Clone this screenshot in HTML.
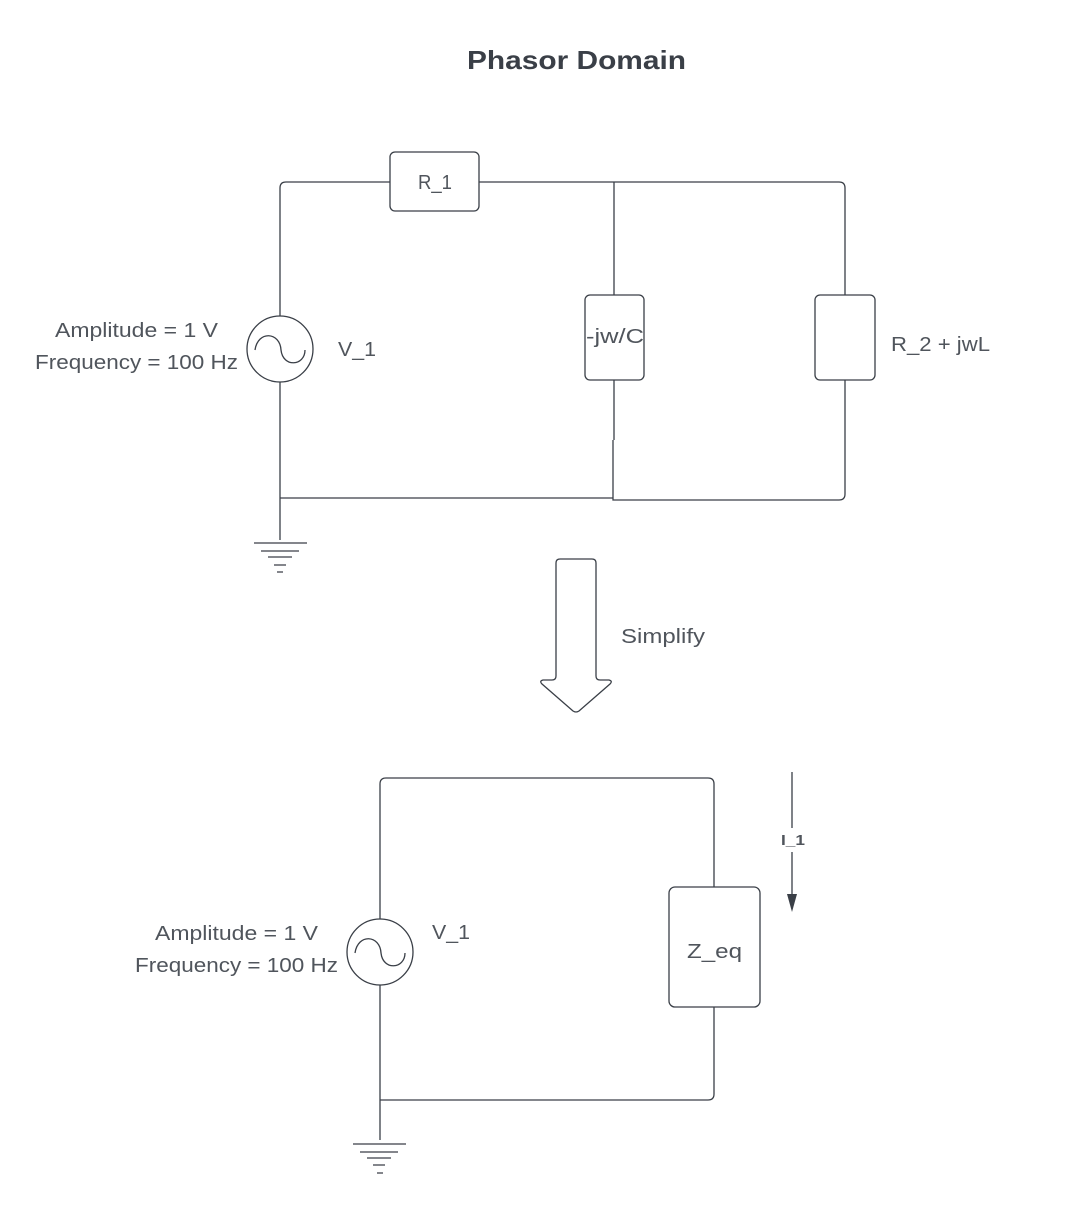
<!DOCTYPE html>
<html><head><meta charset="utf-8"><style>
body{margin:0;background:#fff;}
svg text{font-family:"Liberation Sans",sans-serif;fill:#50555c;}
</style></head><body>
<svg width="1088" height="1214" viewBox="0 0 1088 1214" xmlns="http://www.w3.org/2000/svg">
<text x="467" y="69" font-size="26" font-weight="bold" textLength="219" lengthAdjust="spacingAndGlyphs" style="fill:#3a3f47">Phasor Domain</text>
<g fill="none" stroke="#3a3f47" stroke-width="1.3">
<path d="M280,316 V188 Q280,182 286,182 H390"/>
<path d="M479,182 H839 Q845,182 845,188 V295"/>
<path d="M614,182 V295"/>
<path d="M614,380 V440 M613,440 V500 H839 Q845,500 845,494 V380"/>
<path d="M280,382 V540 M280,498 H613"/>
<rect x="390" y="152" width="89" height="59" rx="5"/>
<rect x="585" y="295" width="59" height="85" rx="5"/>
<rect x="815" y="295" width="60" height="85" rx="5"/>
<circle cx="280" cy="349" r="33"/>
<path d="M255,350 C258,330 280,332 281,350 C283,368 305,366 305,350"/>
<path d="M254,543 H307 M261,551 H299 M268,557 H292 M274,565 H286 M277,572 H283"/>
<path d="M560,559 H592 Q596,559 596,563 V676 Q596,680 600,680 H609 Q613,681 610,684 L579,711 Q576,713 573,711 L542,684 Q539,681 543,680 H552 Q556,680 556,676 V563 Q556,559 560,559 Z"/>
<path d="M380,919 V784 Q380,778 386,778 H708 Q714,778 714,784 V887"/>
<path d="M714,1007 V1094 Q714,1100 708,1100 H380"/>
<path d="M380,985 V1140"/>
<rect x="669" y="887" width="91" height="120" rx="6"/>
<circle cx="380" cy="952" r="33"/>
<path d="M355,953 C358,933 380,935 381,953 C383,971 405,969 405,953"/>
<path d="M353,1144 H406 M360,1152 H398 M367,1158 H391 M373,1165 H385 M377,1173 H383"/>
<path d="M792,772 V828 M792,852 V896"/>
</g>
<polygon points="787,894 797,894 792,912" fill="#3a3f47"/>
<text x="418" y="189" font-size="20" textLength="34" lengthAdjust="spacingAndGlyphs">R_1</text>
<text x="586" y="343" font-size="20" textLength="58" lengthAdjust="spacingAndGlyphs">-jw/C</text>
<text x="891" y="351" font-size="20" textLength="99" lengthAdjust="spacingAndGlyphs">R_2 + jwL</text>
<text x="338" y="356" font-size="20" textLength="38" lengthAdjust="spacingAndGlyphs">V_1</text>
<text x="55" y="337" font-size="20" textLength="163" lengthAdjust="spacingAndGlyphs">Amplitude = 1 V</text>
<text x="35" y="369" font-size="20" textLength="203" lengthAdjust="spacingAndGlyphs">Frequency = 100 Hz</text>
<text x="621" y="643" font-size="20" textLength="84" lengthAdjust="spacingAndGlyphs">Simplify</text>
<text x="432" y="939" font-size="20" textLength="38" lengthAdjust="spacingAndGlyphs">V_1</text>
<text x="155" y="940" font-size="20" textLength="163" lengthAdjust="spacingAndGlyphs">Amplitude = 1 V</text>
<text x="135" y="972" font-size="20" textLength="203" lengthAdjust="spacingAndGlyphs">Frequency = 100 Hz</text>
<text x="687" y="958" font-size="20" textLength="55" lengthAdjust="spacingAndGlyphs">Z_eq</text>
<text x="781" y="845" font-size="15" font-weight="bold" textLength="24" lengthAdjust="spacingAndGlyphs">I_1</text>
</svg>
</body></html>
